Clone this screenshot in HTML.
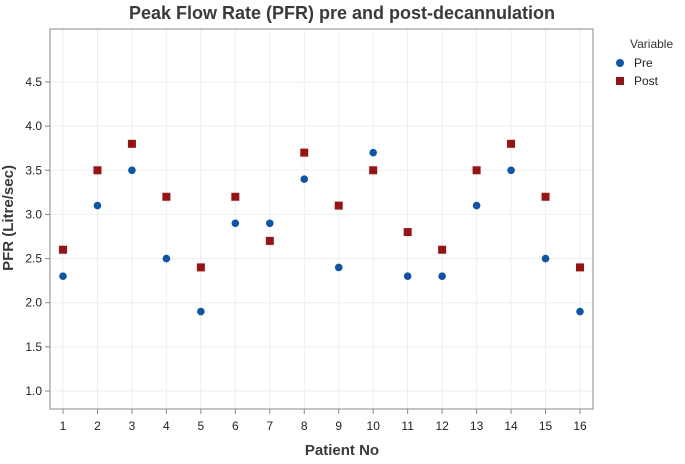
<!DOCTYPE html>
<html><head><meta charset="utf-8"><style>
body{margin:0;background:#fff;}
svg text{font-family:"Liberation Sans",sans-serif;}
</style></head><body>
<svg id="chart" width="685" height="459" viewBox="0 0 685 459">
<text x="342" y="19" text-anchor="middle" font-size="18" font-weight="bold" fill="#3a3a3a">Peak Flow Rate (PFR) pre and post-decannulation</text>
<g id="grid"></g>
<rect x="50" y="29" width="543" height="380" fill="none" stroke="#888" stroke-width="1"/>
<g id="axes"></g>
<g id="marks"></g>
<text x="342" y="455" text-anchor="middle" font-size="15" font-weight="bold" fill="#3a3a3a">Patient No</text>
<text transform="translate(13,218) rotate(-90)" text-anchor="middle" font-size="15" font-weight="bold" fill="#3a3a3a">PFR (Litre/sec)</text>
<g>
<text x="630" y="48" font-size="12" fill="#333">Variable</text>
<g><circle cx="620" cy="63" r="4" fill="#0b55b0"/><text x="634" y="67" font-size="12" fill="#222">Pre</text></g>
<g><rect x="616" y="77" width="8" height="8" fill="#9c1212"/><text x="634" y="85" font-size="12" fill="#222">Post</text></g>
</g>
</svg>
<script>
const patients=[1,2,3,4,5,6,7,8,9,10,11,12,13,14,15,16];
const preValues=[2.3,3.1,3.5,2.5,1.9,2.9,2.9,3.4,2.4,3.7,2.3,2.3,3.1,3.5,2.5,1.9];
const postValues=[2.6,3.5,3.8,3.2,2.4,3.2,2.7,3.7,3.1,3.5,2.8,2.6,3.5,3.8,3.2,2.4];
const yTicks=[1.0,1.5,2.0,2.5,3.0,3.5,4.0,4.5];
const NS="http://www.w3.org/2000/svg";
function xs(p){return 63+(p-1)*(580-63)/15;}
function ys(v){return 391-(v-1)*(391-82)/3.5;}
function mk(t,a,parent){const e=document.createElementNS(NS,t);for(const k in a)e.setAttribute(k,a[k]);parent.appendChild(e);return e;}
const grid=document.getElementById('grid'),axes=document.getElementById('axes'),marks=document.getElementById('marks');
yTicks.forEach(v=>{
 const g=mk('line',{x1:50,x2:593,y1:ys(v),y2:ys(v),stroke:'#eeeeee'},grid);
 
 
 const t=mk('line',{x1:45,x2:50,y1:ys(v),y2:ys(v),stroke:'#888'},axes);
 
 
 const l=mk('text',{x:42,y:ys(v)+4,'text-anchor':'end','font-size':12,fill:'#222'},axes);
 l.textContent=v.toFixed(1);
 
 
});
patients.forEach(p=>{
 const g=mk('line',{x1:xs(p),x2:xs(p),y1:29,y2:409,stroke:'#eeeeee'},grid);
 
 
 const t=mk('line',{x1:xs(p),x2:xs(p),y1:409,y2:414,stroke:'#888'},axes);
 
 
 const l=mk('text',{x:xs(p),y:430,'text-anchor':'middle','font-size':12,fill:'#222'},axes);
 l.textContent=p;
 
 
});
patients.forEach((p,i)=>{
 const c=mk('circle',{cx:xs(p),cy:ys(preValues[i]),r:3.8,fill:'#0b55b0'},marks);
 
 
 const r=mk('rect',{x:xs(p)-4,y:ys(postValues[i])-4,width:8,height:8,fill:'#9c1212'},marks);
 
 
});
</script>
</body></html>
